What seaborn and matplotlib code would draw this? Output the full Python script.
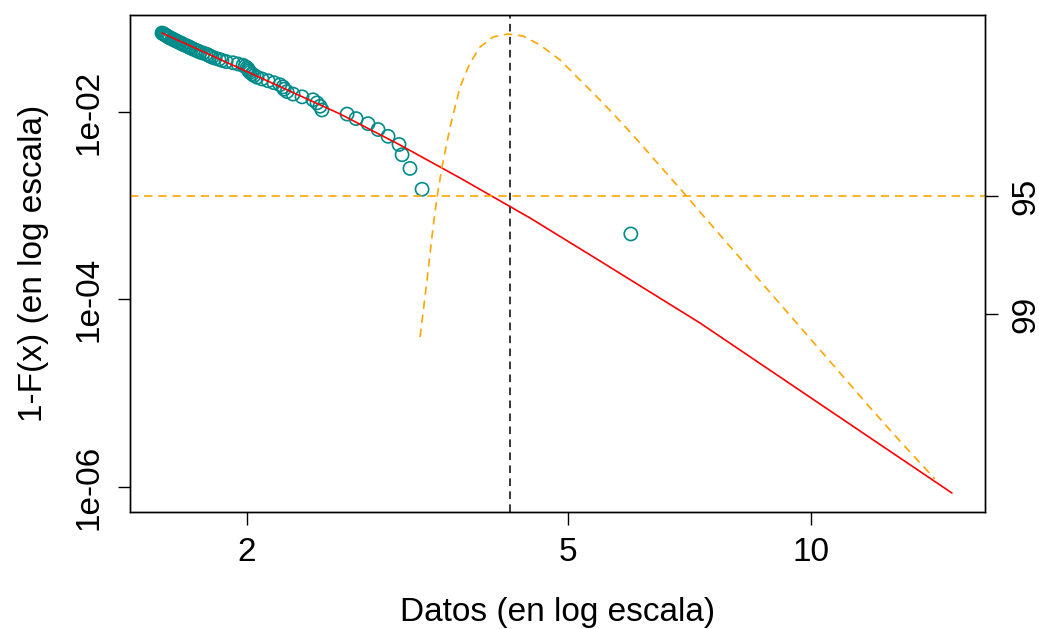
import numpy as np
import pandas as pd
import matplotlib
matplotlib.use("Agg")
import matplotlib.pyplot as plt
import seaborn as sns

# ---- datos ----
# colas empiricas (x ordenado, 1-F(x))
datos_x = [1.569, 1.574, 1.578, 1.583, 1.587, 1.592, 1.596, 1.601, 1.605, 1.615,
           1.619, 1.624, 1.633, 1.638, 1.647, 1.652, 1.662, 1.666, 1.676, 1.685,
           1.695, 1.700, 1.709, 1.719, 1.729, 1.739, 1.749, 1.764, 1.779, 1.790,
           1.799, 1.810, 1.826, 1.846, 1.862, 1.884, 1.921, 1.949, 1.977, 1.989,
           2.000, 2.006, 2.011, 2.017, 2.029, 2.040, 2.058, 2.087, 2.124, 2.160,
           2.197, 2.216, 2.223, 2.242, 2.281, 2.340, 2.414, 2.442, 2.463, 2.477,
           2.661, 2.730, 2.825, 2.907, 2.991, 3.086, 3.113, 3.184, 3.296, 5.980]
datos_y = [0.0695, 0.0685, 0.0675, 0.0665, 0.0655, 0.0645, 0.0635, 0.0625, 0.0615, 0.0605,
           0.0595, 0.0585, 0.0575, 0.0565, 0.0555, 0.0545, 0.0535, 0.0525, 0.0515, 0.0505,
           0.0495, 0.0485, 0.0475, 0.0465, 0.0455, 0.0445, 0.0435, 0.0425, 0.0415, 0.0405,
           0.0395, 0.0385, 0.0375, 0.0365, 0.0355, 0.0345, 0.0335, 0.0325, 0.0315, 0.0305,
           0.0295, 0.0285, 0.0275, 0.0265, 0.0255, 0.0245, 0.0235, 0.0225, 0.0215, 0.0205,
           0.0195, 0.0185, 0.0175, 0.0165, 0.0155, 0.0145, 0.0135, 0.0125, 0.0115, 0.0105,
           0.0095, 0.0085, 0.0075, 0.0065, 0.0055, 0.0045, 0.0035, 0.0025, 0.0015, 0.0005]

# ajuste GPD de la cola
ajuste_x = [1.569, 2.017, 2.608, 3.095, 3.673, 4.485, 5.476, 7.285, 10.26, 14.95]
ajuste_y = [0.0696, 0.02606, 0.009521, 0.004446, 0.001977, 7.40e-4, 2.575e-4,
            5.615e-5, 7.68e-6, 8.63e-7]

# log-verosimilitud perfil del cuantil (relativa al maximo)
perfil_x = [3.277, 3.343, 3.401, 3.440, 3.489, 3.570, 3.673, 3.779, 3.889, 4.036,
            4.212, 4.396, 4.615, 4.886, 5.173, 5.476, 5.798, 6.138, 6.499, 6.940,
            7.285, 8.006, 8.822, 9.693, 10.65, 11.73, 12.89, 14.24]
perfil_ll = [-3.586, -2.911, -2.284, -1.929, -1.574, -1.101, -0.627, -0.343, -0.154, -0.036,
             0.0, -0.024, -0.130, -0.308, -0.544, -0.781, -1.030, -1.290, -1.562, -1.870,
             -2.107, -2.556, -3.018, -3.467, -3.917, -4.379, -4.817, -5.266]

cuantil = 4.236          # estimacion del cuantil 0.999
niveles = [95, 99]
corte_ll = [-1.9207, -3.3174]   # max - qchisq(c(.95,.99),1)/2

# ---- grafica ----
sns.set_style("ticks")
plt.rcParams['font.family'] = ['Liberation Sans', 'DejaVu Sans']
plt.rcParams['text.color'] = 'black'
plt.rcParams['axes.labelcolor'] = 'black'
plt.rcParams['xtick.color'] = 'black'
plt.rcParams['ytick.color'] = 'black'

FS = 24
fig = plt.figure(figsize=(10.39, 6.29), dpi=100)
ax = fig.add_axes([0.1251, 0.186, 0.8229, 0.7902])

df_pts = pd.DataFrame({'x': datos_x, 'y': datos_y})
df_fit = pd.DataFrame({'x': ajuste_x, 'y': ajuste_y})

sns.scatterplot(data=df_pts, x='x', y='y', ax=ax, marker='o', s=90,
                facecolors='none', edgecolor='#008B8B', linewidth=1.2, zorder=3)
sns.lineplot(data=df_fit, x='x', y='y', ax=ax, color='red', linewidth=1.2,
             sort=False, estimator=None, zorder=4)
ax.axvline(cuantil, color='black', linestyle=(0, (5, 3.5)), linewidth=1.1)

ax.set_xscale('log')
ax.set_yscale('log')
ax.set_xlim(1.432, 16.43)
ax.set_ylim(5.41e-7, 0.1083)
ax.set_xticks([2, 5, 10])
ax.set_xticklabels(['2', '5', '10'])
ax.xaxis.set_minor_locator(matplotlib.ticker.NullLocator())
ax.set_yticks([1e-2, 1e-4, 1e-6])
ax.set_yticklabels(['1e-02', '1e-04', '1e-06'], rotation=90, va='center')
ax.yaxis.set_minor_locator(matplotlib.ticker.NullLocator())
ax.tick_params(axis='both', length=9, width=1, labelsize=FS, pad=9)
ax.set_xlabel('Datos (en log escala)', fontsize=FS, labelpad=21)
ax.set_ylabel('1-F(x) (en log escala)', fontsize=FS, labelpad=18)

# eje secundario: verosimilitud perfil
ax2 = ax.twinx()
df_prof = pd.DataFrame({'x': perfil_x, 'll': perfil_ll})
sns.lineplot(data=df_prof, x='x', y='ll', ax=ax2, color='orange', linewidth=1.2,
             linestyle=(0, (5, 3.5)), sort=False, estimator=None)
ax2.axhline(corte_ll[0], color='orange', linestyle=(0, (5, 3.5)), linewidth=1.2)
ax2.set_ylim(-5.657, 0.2249)
ax2.set_yticks(corte_ll)
ax2.set_yticklabels([str(n) for n in niveles], rotation=90, va='center')
ax2.set_ylabel('')
ax2.tick_params(axis='y', length=9, width=1, labelsize=FS, pad=9)

for a in (ax, ax2):
    for sp in a.spines.values():
        sp.set_visible(True)
        sp.set_color('black')
        sp.set_linewidth(1)

plt.savefig('out.png', dpi=100)
